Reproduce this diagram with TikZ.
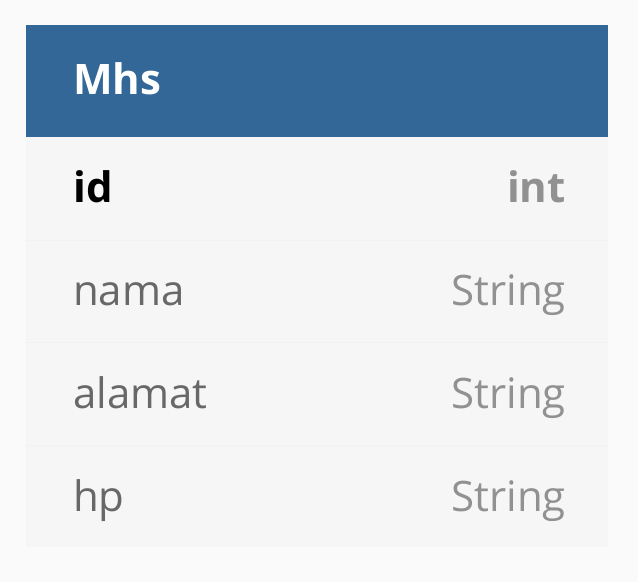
\documentclass[tikz,border=0pt]{standalone}
\usepackage{fontspec}
\setmainfont{Open Sans}
\definecolor{hdrblue}{RGB}{51,103,151}
\definecolor{pagebg}{RGB}{250,250,250}
\definecolor{rowbg}{RGB}{246,246,246}
\definecolor{rowline}{RGB}{241,241,241}
\definecolor{namegray}{RGB}{104,104,104}
\definecolor{typegray}{RGB}{145,145,145}

\begin{document}
\begin{tikzpicture}[x=1pt,y=1pt,
  field/.style={anchor=base west, inner sep=0pt, text=namegray, font=\fontsize{42}{50}\selectfont},
  ftype/.style={anchor=base east, inner sep=0pt, text=typegray, font=\fontsize{42}{50}\selectfont}]
  \filldraw[fill=pagebg, draw=none] (0,0) rectangle (638,582);
  \useasboundingbox (0,0) rectangle (638,582);
  \filldraw[fill=hdrblue, draw=none] (26,557) rectangle (608,445);
  \filldraw[fill=rowbg, draw=none] (26,445) rectangle (608,35);
  \draw[rowline, line width=0.8pt] (26,342) -- (608,342);
  \draw[rowline, line width=0.8pt] (26,240) -- (608,240);
  \draw[rowline, line width=0.8pt] (26,137) -- (608,137);
  \node[field, text=white, font=\fontsize{42}{50}\selectfont\bfseries] (mhs) at (73,487) {Mhs};
  \node[field, text=black, font=\fontsize{42}{50}\selectfont\bfseries] (idname) at (73,379) {id};
  \node[ftype, font=\fontsize{42}{50}\selectfont\bfseries] (idtype) at (566,379) {int};
  \node[field] (namaname) at (73,276) {nama};
  \node[ftype] (namatype) at (566,276) {String};
  \node[field] (alamatname) at (73,174) {alamat};
  \node[ftype] (alamattype) at (566,174) {String};
  \node[field] (hpname) at (73,71) {hp};
  \node[ftype] (hptype) at (566,71) {String};
\end{tikzpicture}
\end{document}
